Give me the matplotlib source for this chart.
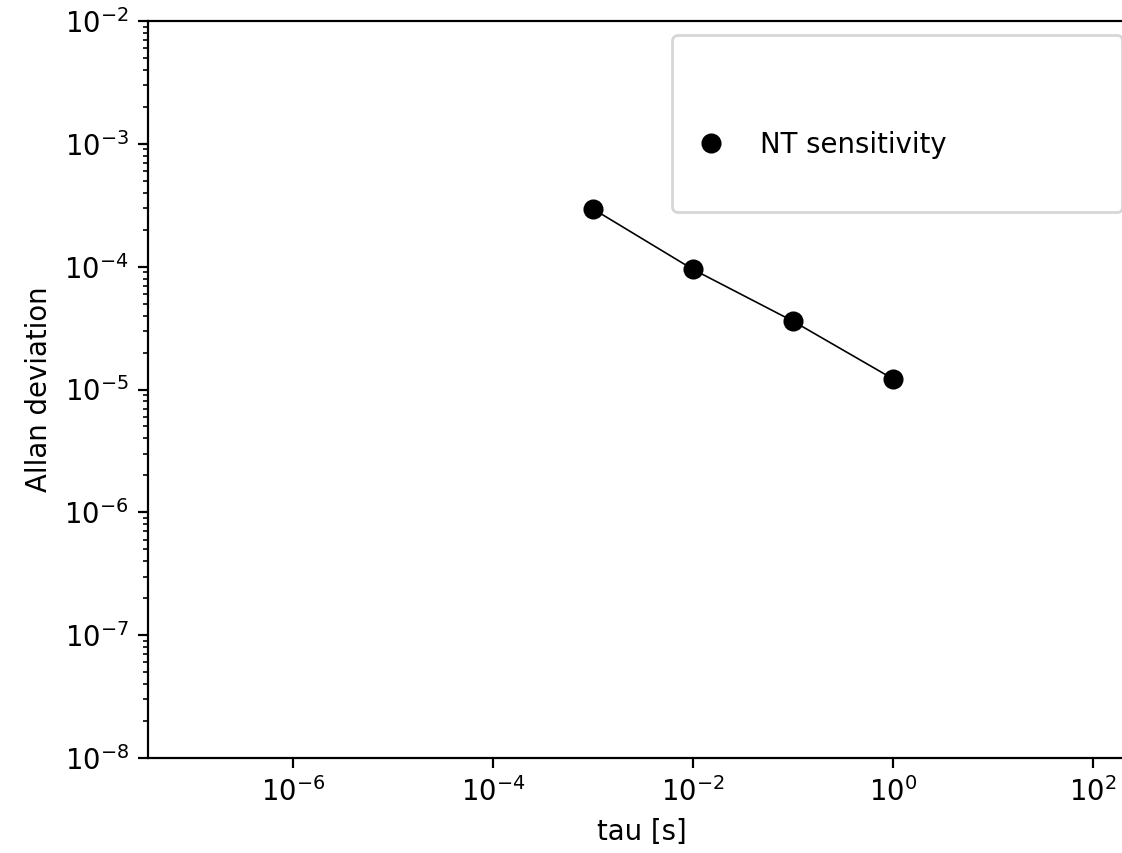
import matplotlib
matplotlib.use("Agg")
import matplotlib.pyplot as plt
from matplotlib.lines import Line2D
from matplotlib.ticker import NullLocator, LogLocator

tau = [1e-3, 1e-2, 1e-1, 1e0]
adev = [2.95e-4, 9.5e-5, 3.6e-5, 1.22e-5]
series_label = "NT sensitivity"
x_label = "tau [s]"
y_label = "Allan deviation"

W, H = 1122, 853
DPI = 198
fig = plt.figure(figsize=(W / DPI, H / DPI), dpi=DPI)

# axes: left spine at x=148px, bottom at y=758px, top at y=21px; 100px per x-decade
left_px, top_px, bot_px = 148, 21, 758
xmin_log = -7.45
px_per_dec = 100.0
right_px = 1136
xmax_log = xmin_log + (right_px - left_px) / px_per_dec
ax = fig.add_axes([left_px / W, 1 - bot_px / H, (right_px - left_px) / W, (bot_px - top_px) / H])

ax.plot(tau, adev, color="black", linewidth=0.6, zorder=2)
ax.plot(tau, adev, linestyle="none", marker="o", markersize=6.3, color="black", zorder=3)

ax.set_xscale("log")
ax.set_yscale("log")
ax.set_xlim(10 ** xmin_log, 10 ** xmax_log)
ax.set_ylim(1e-8, 1e-2)
ax.xaxis.set_major_locator(LogLocator(base=10, numticks=6))
ax.xaxis.set_minor_locator(NullLocator())
ax.set_xlabel(x_label)
ax.set_ylabel(y_label)

real = Line2D([], [], linestyle="none", marker="o", markersize=6.3, color="black")
blank = Line2D([], [], linestyle="none", marker=None)
leg_left, leg_top, leg_right, leg_bot = 672, 35, 1122, 211
leg = fig.legend([real, blank], [series_label, " "], loc="upper left",
                 bbox_to_anchor=(leg_left / W, 1 - leg_bot / H, (leg_right - leg_left) / W, (leg_bot - leg_top) / H),
                 bbox_transform=fig.transFigure, mode="expand", borderaxespad=0,
                 title=" ", title_fontsize=26.7)

fig.savefig("out.png", dpi=DPI)
